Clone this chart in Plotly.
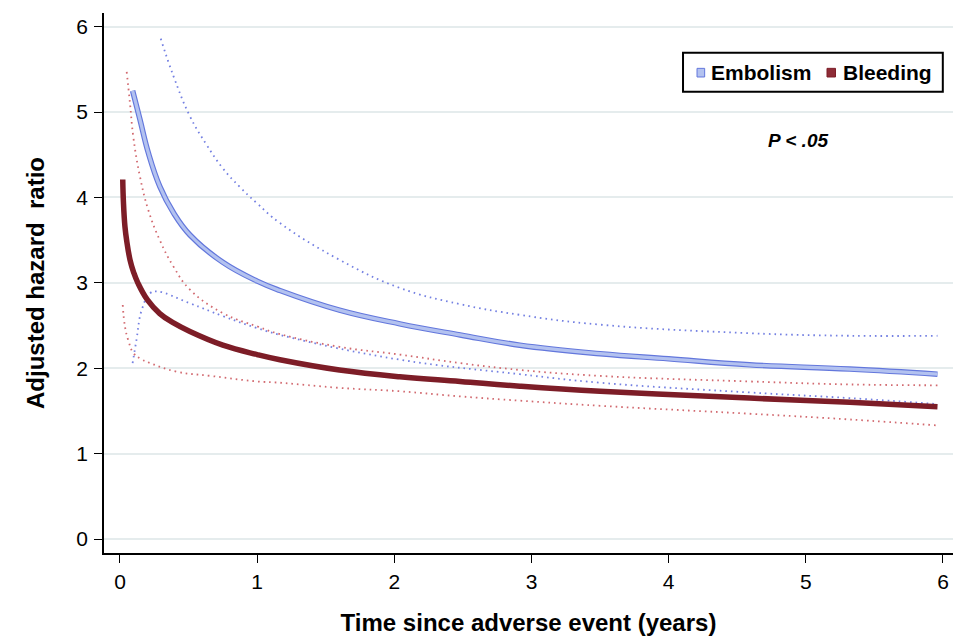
import plotly.graph_objects as go

# ---------------- data ----------------
emb_t = [0.092, 0.146, 0.207, 0.29, 0.39, 0.51, 0.75, 1.0, 1.166, 1.6, 2.04, 2.48, 2.915, 3.5, 4.0, 4.59, 5.32, 5.96]
emb_hr = [5.25, 4.91, 4.52, 4.13, 3.82, 3.56, 3.24, 3.02, 2.91, 2.68, 2.52, 2.39, 2.27, 2.17, 2.11, 2.04, 1.99, 1.93]

emb_up_t = [0.297, 0.39, 0.51, 0.63, 0.75, 0.875, 1.0, 1.166, 1.6, 2.04, 2.48, 2.915, 3.5, 4.59, 5.32, 5.96]
emb_up = [5.86, 5.42, 4.95, 4.62, 4.34, 4.12, 3.93, 3.70, 3.27, 2.94, 2.75, 2.625, 2.51, 2.41, 2.38, 2.38]

emb_lo_t = [0.092, 0.12, 0.158, 0.22, 0.27, 0.51, 0.75, 1.0, 1.24, 2.04, 2.915, 3.5, 4.59, 5.32, 5.96]
emb_lo = [2.06, 2.33, 2.68, 2.88, 2.90, 2.76, 2.61, 2.47, 2.36, 2.10, 1.93, 1.83, 1.716, 1.65, 1.58]

ble_t = [0.02, 0.025, 0.036, 0.05, 0.073, 0.1, 0.13, 0.2, 0.29, 0.39, 0.51, 0.75, 1.0, 1.166, 1.6, 2.04, 2.48, 2.915, 3.5, 4.59, 5.32, 5.96]
ble_hr = [4.21, 3.95, 3.66, 3.48, 3.27, 3.12, 3.00, 2.80, 2.64, 2.53, 2.43, 2.27, 2.16, 2.10, 1.98, 1.90, 1.845, 1.79, 1.73, 1.65, 1.60, 1.55]

ble_up_t = [0.049, 0.073, 0.097, 0.146, 0.207, 0.29, 0.39, 0.51, 0.75, 1.0, 1.166, 1.6, 2.04, 2.48, 2.915, 3.5, 4.59, 5.32, 5.96]
ble_up = [5.47, 5.10, 4.71, 4.24, 3.85, 3.50, 3.19, 2.92, 2.645, 2.49, 2.40, 2.25, 2.16, 2.06, 1.98, 1.91, 1.845, 1.81, 1.80]

ble_lo_t = [0.02, 0.036, 0.06, 0.097, 0.15, 0.22, 0.41, 0.66, 1.0, 1.166, 1.6, 2.04, 2.48, 2.915, 3.5, 4.59, 5.32, 5.96]
ble_lo = [2.74, 2.49, 2.33, 2.18, 2.11, 2.06, 1.96, 1.91, 1.845, 1.83, 1.77, 1.73, 1.67, 1.62, 1.56, 1.467, 1.40, 1.33]

x_ticks = [0, 1, 2, 3, 4, 5, 6]
y_ticks = [0, 1, 2, 3, 4, 5, 6]
series_names = ["Embolism", "Bleeding"]
p_text = "P < .05"

# ---------------- styles ----------------
FONT = "Liberation Sans, Arial, sans-serif"
BLUE_DOT = "#7480e2"
RED_DOT = "#d26a70"
BLUE_EDGE = "#6377dc"
BLUE_FILL = "#b3c2f0"
MAROON = "#7d1d27"
DOT = "1.6px,4px"
SMOOTH = 1.2

fig = go.Figure()

def dotted(t, y, color):
    fig.add_trace(go.Scatter(x=t, y=y, mode="lines",
                             line=dict(color=color, width=1.8, dash=DOT, shape="spline", smoothing=SMOOTH),
                             hoverinfo="skip", showlegend=False))

dotted(emb_up_t, emb_up, BLUE_DOT)
dotted(emb_lo_t, emb_lo, BLUE_DOT)
dotted(ble_up_t, ble_up, RED_DOT)
dotted(ble_lo_t, ble_lo, RED_DOT)

fig.add_trace(go.Scatter(x=ble_t, y=ble_hr, mode="lines", name=series_names[1],
                         line=dict(color=MAROON, width=5.5, shape="spline", smoothing=SMOOTH), showlegend=False))
fig.add_trace(go.Scatter(x=emb_t, y=emb_hr, mode="lines", name=series_names[0],
                         line=dict(color=BLUE_EDGE, width=5.5, shape="spline", smoothing=SMOOTH), showlegend=False))
fig.add_trace(go.Scatter(x=emb_t, y=emb_hr, mode="lines", hoverinfo="skip",
                         line=dict(color=BLUE_FILL, width=3.2, shape="spline", smoothing=SMOOTH), showlegend=False))

# ---------------- legend box (drawn) ----------------
shapes = [
    dict(type="rect", xref="paper", yref="paper", x0=0.682, x1=0.988, y0=0.8543, y1=0.9265,
         line=dict(color="black", width=2), fillcolor="white", layer="above"),
    dict(type="rect", xref="paper", yref="paper", x0=0.6985, x1=0.7075, y0=0.8815, y1=0.8975,
         line=dict(color=BLUE_EDGE, width=1), fillcolor=BLUE_FILL, layer="above"),
    dict(type="rect", xref="paper", yref="paper", x0=0.8516, x1=0.8616, y0=0.8815, y1=0.8975,
         line=dict(color=MAROON, width=1), fillcolor="#8e2c37", layer="above"),
]
annotations = [
    dict(text="<b>" + series_names[0] + "</b>", xref="paper", yref="paper", x=0.7125, y=0.8894,
         xanchor="left", yanchor="middle", showarrow=False, font=dict(family=FONT, size=21, color="black")),
    dict(text="<b>" + series_names[1] + "</b>", xref="paper", yref="paper", x=0.8685, y=0.8894,
         xanchor="left", yanchor="middle", showarrow=False, font=dict(family=FONT, size=21, color="black")),
    dict(text="<b><i>" + p_text + "</i></b>", xref="paper", yref="paper", x=0.8174, y=0.7648,
         xanchor="center", yanchor="middle", showarrow=False, font=dict(family=FONT, size=19, color="black")),
]

fig.update_layout(
    width=953, height=636,
    margin=dict(l=104, r=0, t=13, b=83, autoexpand=False),
    paper_bgcolor="white", plot_bgcolor="white",
    font=dict(family=FONT, size=20, color="black"),
    shapes=shapes, annotations=annotations,
    showlegend=False,
)
fig.update_xaxes(
    range=[-0.1166, 6.073], tickvals=x_ticks, ticktext=[str(v) for v in x_ticks],
    showgrid=False, zeroline=False, showline=True, linecolor="black", linewidth=1.5,
    ticks="outside", ticklen=8, tickwidth=1.3, tickcolor="black", automargin=False,
    tickfont=dict(family=FONT, size=21), ticklabelstandoff=1,
    title=dict(text="Time since adverse event (years)", font=dict(family=FONT, size=24, weight="bold"), standoff=22),
)
fig.update_yaxes(
    range=[-0.164, 6.16], tickvals=y_ticks, ticktext=[str(v) for v in y_ticks],
    showgrid=True, gridcolor="#e5eced", gridwidth=1.6, zeroline=False,
    showline=True, linecolor="black", linewidth=1.5, automargin=False,
    ticks="outside", ticklen=8, tickwidth=1.3, tickcolor="black",
    tickfont=dict(family=FONT, size=21), ticklabelstandoff=2,
    title=dict(text="Adjusted hazard  ratio", font=dict(family=FONT, size=24, weight="bold"), standoff=25),
)

page_fix = ("document.documentElement.style.margin='0';document.body.style.margin='0';"
            "document.documentElement.style.overflow='hidden';document.body.style.overflow='hidden';")
fig.write_html("out.html", post_script=page_fix, config={"displayModeBar": False})
